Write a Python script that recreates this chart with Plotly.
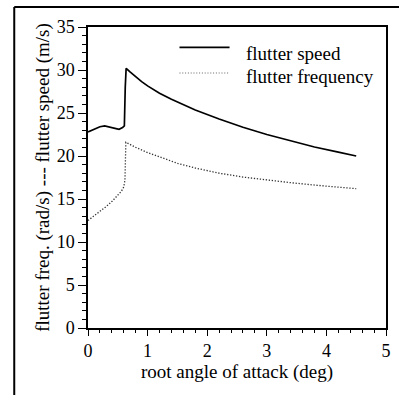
import plotly.graph_objects as go

# flutter speed (m/s) vs root angle of attack (deg)
speed_x = [0.0, 0.1, 0.2, 0.28, 0.4, 0.52, 0.58, 0.61, 0.625, 0.64, 0.7, 0.8, 0.9, 1.0, 1.2, 1.4, 1.6, 1.8, 2.2, 2.6, 3.0, 3.4, 3.8, 4.2, 4.5]
speed_y = [22.8, 23.1, 23.4, 23.5, 23.3, 23.1, 23.3, 23.5, 28.0, 30.2, 29.8, 29.2, 28.65, 28.15, 27.3, 26.6, 25.95, 25.35, 24.3, 23.35, 22.5, 21.75, 21.05, 20.45, 20.0]

# flutter frequency (rad/s)
freq_x = [0.0, 0.1, 0.2, 0.3, 0.4, 0.5, 0.56, 0.6, 0.62, 0.635, 0.8, 1.0, 1.35, 1.52, 1.8, 2.2, 2.6, 3.0, 3.4, 3.83, 4.2, 4.5]
freq_y = [12.5, 13.0, 13.5, 14.1, 14.7, 15.4, 15.9, 16.4, 17.2, 21.6, 21.0, 20.4, 19.5, 19.1, 18.6, 18.0, 17.55, 17.2, 16.9, 16.6, 16.4, 16.2]

legend_names = ["flutter speed", "flutter frequency"]
x_ticks = [0, 1, 2, 3, 4, 5]
y_ticks = [0, 5, 10, 15, 20, 25, 30, 35]

FONT = "Liberation Serif"

fig = go.Figure()
fig.add_trace(go.Scatter(x=speed_x, y=speed_y, mode="lines", name=legend_names[0],
                         line=dict(color="black", width=1.7), showlegend=False))
fig.add_trace(go.Scatter(x=freq_x, y=freq_y, mode="lines", name=legend_names[1],
                         line=dict(color="#333333", width=1.3, dash="1.3px,1.7px"), showlegend=False))

# legend drawn with shapes and annotations
fig.add_shape(type="line", xref="paper", yref="paper", x0=0.307, x1=0.475, y0=0.932, y1=0.932,
              line=dict(color="black", width=1.7))
fig.add_shape(type="line", xref="paper", yref="paper", x0=0.307, x1=0.475, y0=0.847, y1=0.847,
              line=dict(color="#666666", width=1.1, dash="1px,1.8px"))
fig.add_annotation(xref="paper", yref="paper", x=0.522, y=0.912, text=legend_names[0], showarrow=False,
                   xanchor="left", yanchor="middle", font=dict(family=FONT, size=19, color="black"))
fig.add_annotation(xref="paper", yref="paper", x=0.522, y=0.836, text=legend_names[1], showarrow=False,
                   xanchor="left", yanchor="middle", font=dict(family=FONT, size=19, color="black"))

# outer frame (left and top)
fig.add_shape(type="line", xref="paper", yref="paper", x0=-0.2475, x1=-0.2475, y0=-0.25, y1=1.0664,
              line=dict(color="black", width=2))
fig.add_shape(type="line", xref="paper", yref="paper", x0=-0.2475, x1=1.05, y0=1.0664, y1=1.0664,
              line=dict(color="black", width=2))

axis_common = dict(showgrid=False, zeroline=False, showline=True, linecolor="black", linewidth=1.5,
                   mirror=True, ticks="outside", tickwidth=1, tickcolor="black",
                   tickfont=dict(family=FONT, size=18, color="black"))

fig.update_xaxes(range=[0, 5], tickvals=x_ticks, ticktext=[str(v) for v in x_ticks], ticklen=6,
                 minor=dict(dtick=0.2, ticks="outside", ticklen=3, tickcolor="black", tickwidth=1),
                 title=dict(text="root angle of attack (deg)", font=dict(family=FONT, size=19, color="black"),
                            standoff=1),
                 **axis_common)
fig.update_yaxes(range=[0, 35], tickvals=y_ticks, ticktext=[str(v) for v in y_ticks], ticklen=8,
                 minor=dict(dtick=1, ticks="outside", ticklen=4, tickcolor="black", tickwidth=1),
                 title=dict(text="flutter freq. (rad/s) --- flutter speed (m/s)",
                            font=dict(family=FONT, size=19, color="black"), standoff=2),
                 **axis_common)

fig.update_layout(width=399, height=395, margin=dict(l=88, r=8, t=27, b=67),
                  paper_bgcolor="white", plot_bgcolor="white", showlegend=False)

fig.write_html("out.html")
